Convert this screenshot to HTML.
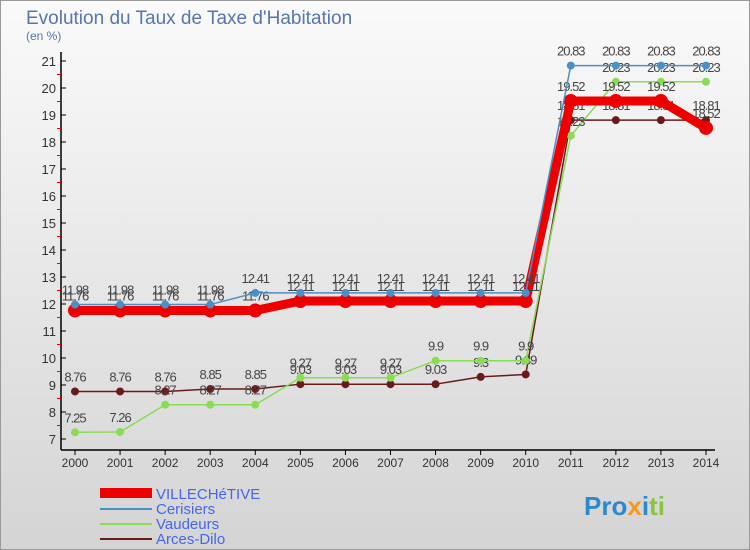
<!DOCTYPE html>
<html><head><meta charset="utf-8"><style>
body{margin:0;width:750px;height:550px;overflow:hidden;font-family:"Liberation Sans",sans-serif}
#bg{position:absolute;left:0;top:0;width:750px;height:550px;background:linear-gradient(#fafafa,#d4d4d4);border:1px solid #999;box-sizing:border-box}
</style></head><body>
<div id="bg"></div>
<svg id="c" width="750" height="550" style="position:absolute;left:0;top:0" font-family="Liberation Sans, sans-serif">
<text x="26" y="24" font-size="19" fill="#5577aa">Evolution du Taux de Taxe d'Habitation</text>
<text x="26" y="40" font-size="12" fill="#5577aa">(en %)</text>
<g id="axes"></g><g id="series"></g>
<g>
<rect x="100" y="488" width="52" height="10" fill="#e00"/>
<text x="156" y="499" font-size="15" fill="#4466ee">VILLECHéTIVE</text>
<line x1="100" y1="509" x2="152" y2="509" stroke="#4a90c8" stroke-width="2"/>
<text x="156" y="514" font-size="15" fill="#4466ee">Cerisiers</text>
<line x1="100" y1="524" x2="152" y2="524" stroke="#88dd55" stroke-width="2"/>
<text x="156" y="529" font-size="15" fill="#4466ee">Vaudeurs</text>
<line x1="100" y1="539" x2="152" y2="539" stroke="#6b1a1a" stroke-width="2"/>
<text x="156" y="544" font-size="15" fill="#4466ee">Arces-Dilo</text>
</g>
<g><text x="584" y="515" font-size="26" font-weight="bold"><tspan fill="#2a8acb">Pro</tspan><tspan fill="#f39a1e">x</tspan><tspan fill="#2a8acb">i</tspan><tspan fill="#8bc43f">ti</tspan></text></g>
</svg>
<script>
const years=[2000,2001,2002,2003,2004,2005,2006,2007,2008,2009,2010,2011,2012,2013,2014];
const yTicks=[7,8,9,10,11,12,13,14,15,16,17,18,19,20,21];
const villechetive=[11.76,11.76,11.76,11.76,11.76,12.11,12.11,12.11,12.11,12.11,12.11,19.52,19.52,19.52,18.52];
const cerisiers=[11.98,11.98,11.98,11.98,12.41,12.41,12.41,12.41,12.41,12.41,12.41,20.83,20.83,20.83,20.83];
const vaudeurs=[7.25,7.26,8.27,8.27,8.27,9.27,9.27,9.27,9.9,9.9,9.9,18.23,20.23,20.23,20.23];
const arcesDilo=[8.76,8.76,8.76,8.85,8.85,9.03,9.03,9.03,9.03,9.3,9.39,18.81,18.81,18.81,18.81];
const NS="http://www.w3.org/2000/svg";
const xS=i=>75+i*(706-75)/(years.length-1);
const yS=v=>439-(v-7)*(439-61)/14;
function mk(p,t,a){const e=document.createElementNS(NS,t);for(const k in a)e.setAttribute(k,a[k]);p.appendChild(e);return e;}
const ax=document.getElementById('axes'),sg=document.getElementById('series');
let l=mk(ax,'line',{x1:61,y1:52,x2:61,y2:450,stroke:'#000','stroke-width':1.5});

l=mk(ax,'line',{x1:61,y1:450,x2:715,y2:450,stroke:'#000','stroke-width':1.5});

yTicks.forEach(v=>{const y=yS(v);
 mk(ax,'line',{x1:61,y1:y,x2:66,y2:y,stroke:'#000'});
 if(v<21)mk(ax,'line',{x1:57,y1:yS(v+0.5),x2:61,y2:yS(v+0.5),stroke:'#e00'});
 const t=mk(ax,'text',{x:56,y:y+5,'font-size':13,fill:'#333','text-anchor':'end'});t.textContent=v;
 });
years.forEach((yr,i)=>{const x=xS(i);mk(ax,'line',{x1:x,y1:450,x2:x,y2:455,stroke:'#000'});
 const t=mk(ax,'text',{x:x,y:467,'font-size':12,fill:'#333','text-anchor':'middle'});t.textContent=yr;
 });
function series(data,name,color,w,r){const g=mk(sg,'g',{});
 
 mk(g,'polyline',{points:data.map((v,i)=>xS(i)+','+yS(v)).join(' '),fill:'none',stroke:color,'stroke-width':w,'stroke-linejoin':'round'});
 data.forEach((v,i)=>{const c=mk(g,'circle',{cx:xS(i),cy:yS(v),r:r,fill:color});
  
  const t=mk(g,'text',{x:xS(i),y:yS(v)-10,'font-size':13,fill:'#444','text-anchor':'middle','letter-spacing':'-1'});t.textContent=v;
  });}
series(arcesDilo,'arces-dilo','#6b1a1a',1.5,4);
series(vaudeurs,'vaudeurs','#88dd55',1.5,4);
series(villechetive,'villechetive','#e00',9,7);
series(cerisiers,'cerisiers','#4a90c8',1.5,4);
</script>
</body></html>
